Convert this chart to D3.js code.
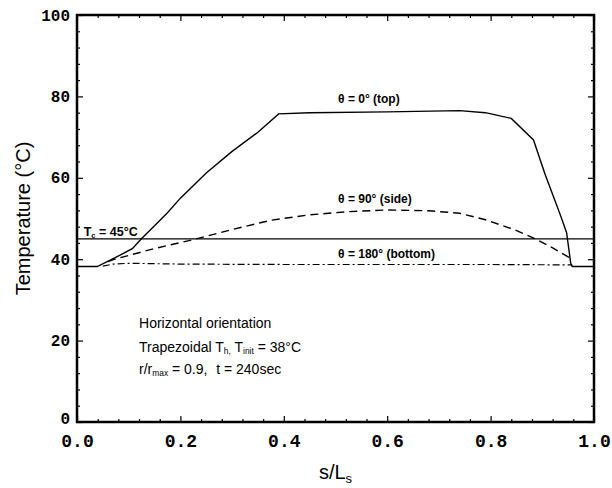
<!DOCTYPE html>
<html>
<head>
<meta charset="utf-8">
<script src="https://cdn.jsdelivr.net/npm/d3@7"></script>
<style>
  body { margin: 0; background: #fff; }
  text { fill: #000; }
</style>
</head>
<body>
<svg id="chart" width="612" height="488"></svg>
<script>
// theta = 0 deg (top), solid
const topS = [0.0, 0.039, 0.073, 0.107, 0.126, 0.149, 0.175, 0.2, 0.25, 0.30, 0.35, 0.39, 0.45, 0.60, 0.74, 0.79, 0.84, 0.883, 0.905, 0.936, 0.947, 0.955, 0.958, 1.0];
const topT = [38.2, 38.2, 40.3, 42.6, 45.2, 48.1, 51.4, 55, 61.2, 66.5, 71.2, 75.7, 76.0, 76.2, 76.5, 76.0, 74.6, 69.3, 61, 50.5, 46.5, 39, 38.2, 38.2];

// theta = 90 deg (side), dashed
const sideS = [0.06, 0.073, 0.149, 0.225, 0.30, 0.376, 0.45, 0.527, 0.60, 0.68, 0.74, 0.79, 0.845, 0.89, 0.92, 0.955];
const sideT = [39.4, 40.0, 42.6, 44.8, 47.3, 49.6, 50.9, 51.7, 52.1, 51.9, 51.3, 49.7, 47.3, 44.8, 42.8, 40.2];

// theta = 180 deg (bottom), dash-dot
const botS = [0.05, 0.07, 0.1, 0.2, 0.4, 0.6, 0.8, 0.958];
const botT = [38.3, 38.8, 39.0, 38.8, 38.7, 38.7, 38.7, 38.6];

const tcValue = 45;
const xMajor = [0, 0.2, 0.4, 0.6, 0.8, 1.0];
const yMajor = [0, 20, 40, 60, 80, 100];

const svg = d3.select("#chart");
const m = { left: 77, top: 15, right: 18, bottom: 66 };
const W = 612 - m.left - m.right, H = 488 - m.top - m.bottom;
const g = svg.append("g").attr("transform", `translate(${m.left},${m.top})`);

const x = d3.scaleLinear().domain([0, 1]).range([0, W]);
const y = d3.scaleLinear().domain([0, 100]).range([H, 0]);

const xMinor = d3.range(0, 1.0001, 0.04).filter(v => Math.abs(v * 5 - Math.round(v * 5)) > 1e-6);
const yMinor = d3.range(0, 100.001, 4).filter(v => v % 20 !== 0);

function ticks(axisFn, scale, vals, size, tr) {
  g.append("g").attr("transform", tr || null)
    .call(axisFn(scale).tickValues(vals).tickSize(size).tickFormat(""))
    .call(s => s.select(".domain").remove())
    .call(s => s.selectAll("line").attr("stroke", "#000").attr("stroke-width", 1.2));
}
ticks(d3.axisBottom, x, xMinor, -3, `translate(0,${H})`);
ticks(d3.axisBottom, x, xMajor, -6, `translate(0,${H})`);
ticks(d3.axisTop, x, xMinor, -3);
ticks(d3.axisTop, x, xMajor, -6);
ticks(d3.axisLeft, y, yMinor, -3);
ticks(d3.axisLeft, y, yMajor, -6);
ticks(d3.axisRight, y, yMinor, -3, `translate(${W},0)`);
ticks(d3.axisRight, y, yMajor, -6, `translate(${W},0)`);

// tick labels
const xl = g.append("g").attr("transform", `translate(0,${H})`)
  .call(d3.axisBottom(x).tickValues(xMajor).tickSize(0).tickPadding(12).tickFormat(d3.format(".1f")));
xl.select(".domain").remove();
xl.selectAll("text").attr("font-family", "Liberation Mono, monospace").attr("font-weight", "bold").attr("font-size", 18);

const yl = g.append("g")
  .call(d3.axisLeft(y).tickValues(yMajor).tickSize(0).tickPadding(7).tickFormat(d3.format("d")));
yl.select(".domain").remove();
yl.selectAll("text").attr("font-family", "Liberation Mono, monospace").attr("font-weight", "bold").attr("font-size", 16)
  .attr("dy", d => d === 0 ? "0.1em" : "0.32em");

// frame
g.append("rect").attr("width", W).attr("height", H)
  .attr("fill", "none").attr("stroke", "#000").attr("stroke-width", 2.5);

// curves
const line = d3.line().x(d => x(d[0])).y(d => y(d[1]));
g.append("path").datum(d3.zip(topS, topT)).attr("d", line)
  .attr("fill", "none").attr("stroke", "#000").attr("stroke-width", 1.4);
g.append("path").datum(d3.zip(sideS, sideT)).attr("d", line)
  .attr("fill", "none").attr("stroke", "#000").attr("stroke-width", 1.4).attr("stroke-dasharray", "8,5");
g.append("path").datum(d3.zip(botS, botT)).attr("d", line)
  .attr("fill", "none").attr("stroke", "#000").attr("stroke-width", 1.2).attr("stroke-dasharray", "7,3,2,3");
g.append("line").attr("x1", 0).attr("x2", W).attr("y1", y(tcValue)).attr("y2", y(tcValue))
  .attr("stroke", "#000").attr("stroke-width", 1.3);

// labels
const sans = "Liberation Sans, Arial, sans-serif";
function label(xv, yv, size, parts, weight) {
  const t = g.append("text").attr("x", x(xv)).attr("y", y(yv))
    .attr("font-family", sans).attr("font-size", size).attr("font-weight", weight || "bold");
  parts.forEach(p => {
    const ts = t.append("tspan").text(p[0]);
    if (p[1] === "sub") ts.attr("baseline-shift", "-30%").attr("font-size", size * 0.6);
    if (p[1] === "gap") ts.attr("dx", size * 0.35);
  });
  return t;
}
label(0.505, 78.3, 12, [["θ = 0° (top)"]]);
label(0.505, 53.7, 12, [["θ = 90° (side)"]]);
label(0.505, 40.2, 12, [["θ = 180° (bottom)"]]);
label(0.013, 45.8, 12.5, [["T"], ["c", "sub"], [" = 45°C"]]);
label(0.12, 23.0, 14, [["Horizontal orientation"]], "normal");
label(0.12, 17.3, 14, [["Trapezoidal T"], ["h,", "sub"], [" T"], ["init", "sub"], [" = 38°C"]], "normal");
label(0.12, 11.8, 14, [["r/r"], ["max", "sub"], [" = 0.9,"], [" t = 240sec", "gap"]], "normal");

// axis titles
svg.append("text").attr("transform", `translate(30,${m.top + H / 2}) rotate(-90)`)
  .attr("text-anchor", "middle").attr("font-family", sans).attr("font-size", 20)
  .text("Temperature (°C)");
const xt = svg.append("text").attr("x", m.left + W / 2).attr("y", 479)
  .attr("text-anchor", "middle").attr("font-family", sans).attr("font-size", 20);
xt.append("tspan").text("s/L");
xt.append("tspan").text("s").attr("baseline-shift", "-30%").attr("font-size", 13);
</script>
</body>
</html>
